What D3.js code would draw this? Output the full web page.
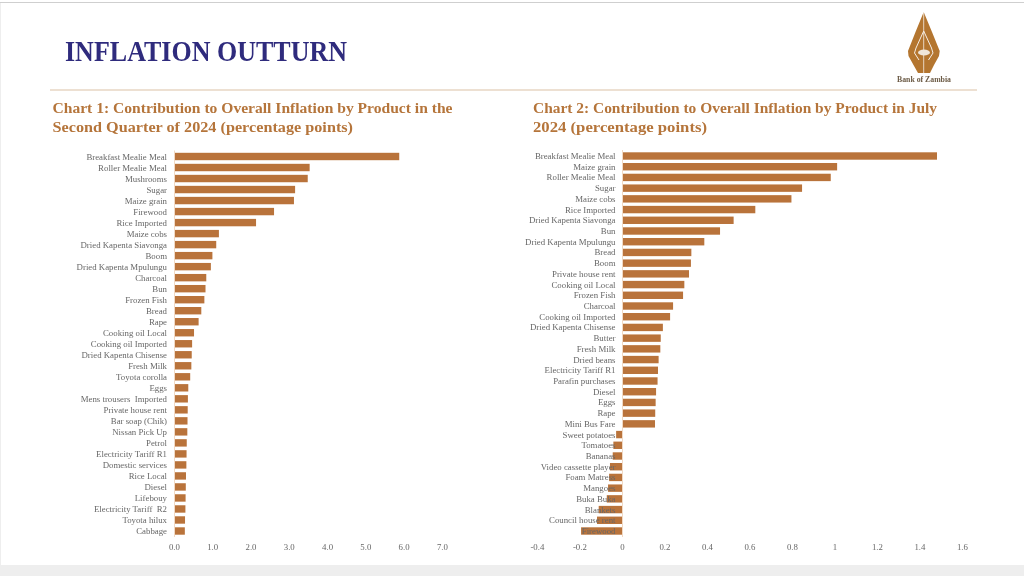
<!DOCTYPE html>
<html><head><meta charset="utf-8">
<script src="https://cdn.jsdelivr.net/npm/d3@7"></script>
<style>html,body{margin:0;padding:0;background:#fff;overflow:hidden}svg{display:block}text{font-family:"Liberation Serif",serif}</style>
</head><body><svg id="c" width="1024" height="576"></svg>
<script>
const pageTitle = "INFLATION OUTTURN";
const chart1Title = ["Chart 1: Contribution to Overall Inflation by Product in the","Second Quarter of 2024 (percentage points)"];
const chart2Title = ["Chart 2: Contribution to Overall Inflation by Product in July","2024 (percentage points)"];
const chart1Categories = ["Breakfast Mealie Meal","Roller Mealie Meal","Mushrooms","Sugar","Maize grain","Firewood","Rice Imported","Maize cobs","Dried Kapenta Siavonga","Boom","Dried Kapenta Mpulungu","Charcoal","Bun","Frozen Fish","Bread","Rape","Cooking oil Local","Cooking oil Imported","Dried Kapenta Chisense","Fresh Milk","Toyota corolla","Eggs","Mens trousers  Imported","Private house rent","Bar soap (Chik)","Nissan Pick Up","Petrol","Electricity Tariff R1","Domestic services","Rice Local","Diesel","Lifebouy","Electricity Tariff  R2","Toyota hilux","Cabbage"];
const chart1Values = [5.87,3.53,3.48,3.15,3.12,2.60,2.13,1.16,1.09,0.99,0.95,0.83,0.81,0.78,0.70,0.63,0.51,0.46,0.45,0.44,0.41,0.36,0.35,0.345,0.34,0.335,0.32,0.315,0.31,0.30,0.295,0.29,0.285,0.275,0.27];
const chart2Categories = ["Breakfast Mealie Meal","Maize grain","Roller Mealie Meal","Sugar","Maize cobs","Rice Imported","Dried Kapenta Siavonga","Bun","Dried Kapenta Mpulungu","Bread","Boom","Private house rent","Cooking oil Local","Frozen Fish","Charcoal","Cooking oil Imported","Dried Kapenta Chisense","Butter","Fresh Milk","Dried beans","Electricity Tariff R1","Parafin purchases","Diesel","Eggs","Rape","Mini Bus Fare","Sweet potatoes","Tomatoes","Bananas","Video cassette player","Foam Matress","Mangoes","Buka Buka","Blankets","Council house rent","Firewood"];
const chart2Values = [1.48,1.01,0.98,0.845,0.795,0.625,0.523,0.459,0.385,0.324,0.322,0.313,0.291,0.285,0.238,0.224,0.19,0.18,0.178,0.17,0.167,0.165,0.158,0.156,0.154,0.153,-0.03,-0.043,-0.046,-0.059,-0.063,-0.068,-0.074,-0.112,-0.12,-0.195];
const chart1Ticks = [0,1,2,3,4,5,6,7];
const chart2Ticks = [-0.4,-0.2,0,0.2,0.4,0.6,0.8,1,1.2,1.4,1.6];

const BAR="#b9723a", TXT="#666666";
const svg=d3.select("#c");
svg.append("rect").attr("width",1024).attr("height",576).attr("fill","#fff");
svg.append("rect").attr("x",0).attr("y",2).attr("width",1024).attr("height",1).attr("fill","#cfcfcf");
svg.append("rect").attr("x",0).attr("y",3).attr("width",1).attr("height",562).attr("fill","#eeeeee");
svg.append("rect").attr("x",0).attr("y",565).attr("width",1024).attr("height",11).attr("fill","#eeeeee");
svg.append("rect").attr("x",50).attr("y",89.5).attr("width",927).attr("height",1).attr("fill","#dcc1a6");

const root=svg.append("g").style("opacity",0.995);
root.append("text").attr("x",65).attr("y",61).attr("font-size",28.5).attr("font-weight",700).attr("fill","#2e2a7c").attr("textLength",282).attr("lengthAdjust","spacingAndGlyphs").text(pageTitle);

function titleBlock(lines,x,widths){
  lines.forEach((t,i)=>root.append("text").attr("x",x).attr("y",113+i*19).attr("font-size",15.5).attr("font-weight",700).attr("fill","#b5743a").attr("textLength",widths[i]).attr("lengthAdjust","spacingAndGlyphs").text(t));
}
titleBlock(chart1Title,52.5,[400,300.5]);
titleBlock(chart2Title,533,[404,174]);

function chart(cats,vals,ticks,xDomain,xRange,yRange,labelX,fmt,labelSize){
  const x=d3.scaleLinear().domain(xDomain).range(xRange);
  const y=d3.scalePoint().domain(cats).range(yRange);
  const g=root.append("g");
  g.append("line").attr("x1",x(0)).attr("x2",x(0)).attr("y1",yRange[0]-6).attr("y2",yRange[1]+6).attr("stroke","#f1d9c4").attr("stroke-width",1);
  g.selectAll("rect.b").data(cats).join("rect").attr("class","b")
    .attr("x",(d,i)=>x(Math.min(0,vals[i]))+(vals[i]>0?0.5:0))
    .attr("width",(d,i)=>Math.abs(x(vals[i])-x(0))-0.5)
    .attr("y",d=>y(d)-3.7).attr("height",7.4).attr("fill",BAR);
  g.selectAll("text.l").data(cats).join("text").attr("class","l")
    .attr("x",labelX).attr("y",d=>y(d)+3).attr("text-anchor","end")
    .attr("font-size",labelSize).attr("fill",TXT).style("white-space","pre").text(d=>d);
  const ax=g.append("g").attr("transform","translate(0,"+(yRange[1]+13)+")")
    .call(d3.axisBottom(x).tickValues(ticks).tickSize(0).tickPadding(0).tickFormat(fmt));
  ax.select(".domain").remove();
  ax.selectAll("text").attr("font-size",labelSize).attr("fill",TXT).attr("dx",-0.6).style("font-family",'"Liberation Serif",serif');
}
chart(chart1Categories,chart1Values,chart1Ticks,[0,7],[174.5,442.5],[156.5,531],167,d3.format(".1f"),8.8);
chart(chart2Categories,chart2Values,chart2Ticks,[-0.4,1.6],[537.5,962.5],[156,531],615.5,d=>String(d),8.8);

// Bank of Zambia logo
const logo=root.append("g");
logo.append("path").attr("d","M923.7 12 L932 32 L939.7 51 L939 56 L934 65 L930 73 L918 73 L913.5 65 L908.5 56 L908 51 L915.5 32 Z").attr("fill","#b4752f");
logo.append("path").attr("d","M923.7 12 L923.7 73").attr("stroke","#fff").attr("stroke-width",0.7);
logo.append("path").attr("d","M923.7 31 L916 48 L914.5 53 L919 60 M923.7 31 L931.5 48 L933 53 L928.5 60").attr("stroke","#f6efe6").attr("stroke-width",1).attr("fill","none");
logo.append("ellipse").attr("cx",924).attr("cy",52.5).attr("rx",6).attr("ry",3).attr("fill","#efe6da");
logo.append("text").attr("x",897).attr("y",81.5).attr("font-size",7.5).attr("font-weight",700).attr("fill","#6b5a45").attr("textLength",54).attr("lengthAdjust","spacingAndGlyphs").text("Bank of Zambia");
</script></body></html>
